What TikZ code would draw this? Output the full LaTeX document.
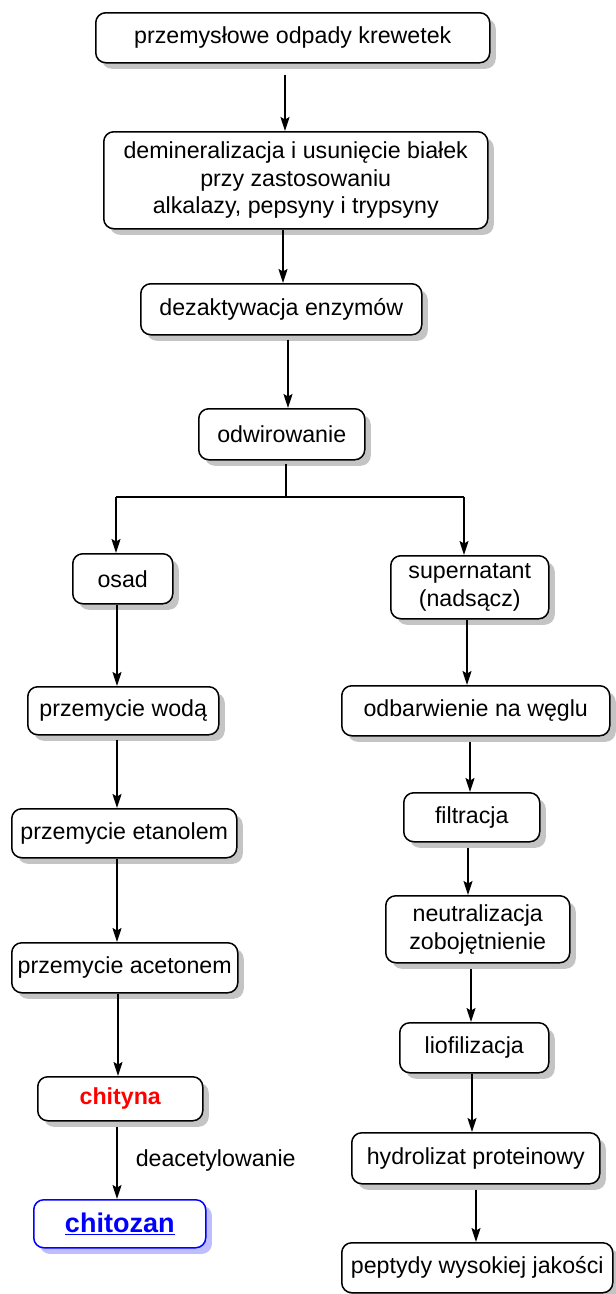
\documentclass[tikz,border=0pt]{standalone}
\usepackage{fontspec}
\setmainfont{Liberation Sans}
\usetikzlibrary{arrows.meta,shadows}
\definecolor{shgray}{RGB}{196,196,196}
\definecolor{shblue}{RGB}{190,190,255}
\definecolor{chred}{RGB}{255,0,0}
\definecolor{chblue}{RGB}{0,0,255}
\begin{document}
\begin{tikzpicture}[x=1pt,y=-1pt,
  box/.style={draw, line width=1.5pt, rounded corners=10pt, fill=white, align=center,
    inner sep=0pt, anchor=north west, font=\fontsize{23.2}{27.5}\selectfont,
    drop shadow={shadow xshift=6pt, shadow yshift=-6pt, fill=shgray, opacity=1}},
  bluebox/.style={box, draw=chblue,
    drop shadow={shadow xshift=6pt, shadow yshift=-6pt, fill=shblue, opacity=1}},
  ln/.style={line width=1.5pt},
  arr/.style={line width=1.5pt, -{Stealth[length=14pt,width=9pt,inset=2.5pt]}},
  lbl/.style={font=\fontsize{23.2}{27}\selectfont, inner sep=0pt}]
\useasboundingbox[fill=white] (0,0) rectangle (616,1294);

% boxes
\node[box, minimum width=394pt, minimum height=50pt] (n1) at (95,12) {przemysłowe odpady krewetek};
\node[box, minimum width=384pt, minimum height=97pt] (n2) at (103,131) {demineralizacja i usunięcie białek\\przy zastosowaniu\\ alkalazy, pepsyny i trypsyny};
\node[box, minimum width=281pt, minimum height=51pt] (n3) at (140,283) {dezaktywacja enzymów};
\node[box, minimum width=166pt, minimum height=51pt] (n4) at (198,408) {odwirowanie};
\node[box, minimum width=100pt, minimum height=50pt] (n5) at (72,553) {osad};
\node[box, minimum width=158pt, minimum height=63pt] (n6) at (390,555) {supernatant\\ (nadsącz)};
\node[box, minimum width=191pt, minimum height=48pt] (n7) at (27,686) {przemycie wodą};
\node[box, minimum width=268pt, minimum height=50pt] (n8) at (341,685) {odbarwienie na węglu};
\node[box, minimum width=225pt, minimum height=49pt] (n9) at (11,808) {przemycie etanolem};
\node[box, minimum width=136pt, minimum height=49pt] (n10) at (403,792) {filtracja};
\node[box, minimum width=184pt, minimum height=67pt] (n11) at (385,895) {neutralizacja\\zobojętnienie};
\node[box, minimum width=226pt, minimum height=50pt] (n12) at (11,942) {przemycie acetonem};
\node[box, minimum width=149pt, minimum height=50pt] (n13) at (399,1022) {liofilizacja};
\node[box, minimum width=165pt, minimum height=44pt] (n14) at (37,1076) {\textcolor{chred}{\bfseries chityna}};
\node[box, minimum width=248pt, minimum height=51pt] (n15) at (351,1132) {hydrolizat proteinowy};
\node[bluebox, minimum width=172pt, minimum height=48pt] (n16) at (33,1199) {\textcolor{chblue}{\fontsize{27}{30}\selectfont\bfseries\underline{chitozan}}};
\node[box, minimum width=271pt, minimum height=50pt] (n17) at (341,1242) {peptydy wysokiej jakości};

% column coordinates
\coordinate (c1) at (285,0);
\coordinate (c2) at (283,0);
\coordinate (c3) at (288,0);
\coordinate (split) at (286,497);
\coordinate (sl) at (116,497);
\coordinate (sr) at (464,497);
\coordinate (cl) at (117,0);
\coordinate (cl2) at (118,0);
\coordinate (r1) at (467,0);
\coordinate (r2) at (470,0);
\coordinate (r3) at (468,0);
\coordinate (r4) at (471,0);
\coordinate (r5) at (472,0);
\coordinate (r6) at (476,0);

% connectors
\draw[arr, shorten <=11pt] (n1.south -| c1) -- (n2.north -| c1);
\draw[arr] (n2.south -| c2) -- (n3.north -| c2);
\draw[arr, shorten <=4pt] (n3.south -| c3) -- (n4.north -| c3);
\draw[ln, shorten <=3pt] (n4.south -| split) -- (split);
\draw[ln] (sl) -- (sr);
\draw[arr] (sl) -- (n5.north -| sl);
\draw[arr] (sr) -- (n6.north -| sr);
\draw[arr] (n5.south -| cl) -- (n7.north -| cl);
\draw[arr, shorten <=4pt] (n7.south -| cl) -- (n9.north -| cl);
\draw[arr] (n9.south -| cl) -- (n12.north -| cl);
\draw[arr] (n12.south -| cl2) -- (n14.north -| cl2);
\draw[arr, shorten <=5pt] (n14.south -| cl) -- (n16.north -| cl) node[lbl, midway, anchor=west, xshift=18pt] (lab) {deacetylowanie};
\draw[arr] (n6.south -| r1) -- (n8.north -| r1);
\draw[arr, shorten <=5pt] (n8.south -| r2) -- (n10.north -| r2);
\draw[arr, shorten <=5pt] (n10.south -| r3) -- (n11.north -| r3);
\draw[arr, shorten <=5pt] (n11.south -| r4) -- (n13.north -| r4);
\draw[arr] (n13.south -| r5) -- (n15.north -| r5);
\draw[arr, shorten <=5pt] (n15.south -| r6) -- (n17.north -| r6);
\end{tikzpicture}
\end{document}
